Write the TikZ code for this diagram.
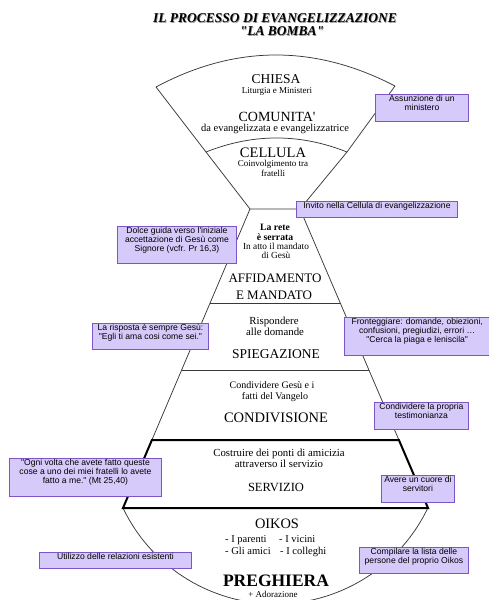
\documentclass[tikz,border=0pt]{standalone}
\usepackage{fontspec}
\setmainfont{Liberation Serif}[Ligatures=TeXOff]
\newfontfamily\notefont{Liberation Sans}[Ligatures=TeXOff]
\definecolor{notefill}{HTML}{D6CAFA}
\definecolor{notedraw}{HTML}{7C56C6}
\definecolor{ink}{HTML}{383838}
\definecolor{shadowgray}{HTML}{9A9A9A}
\newcommand\fs[1]{\fontsize{#1}{#1}\selectfont}
\newcommand\sq{\char39\relax}
\newcommand\dq{\char34\relax}
\newcommand\notebox[6]{%
  \pgfmathsetlengthmacro\nbw{(#4)-(#2)}%
  \pgfmathsetlengthmacro\nbh{(#5)-(#3)}%
  \node[note, minimum width=\nbw, minimum height=\nbh] (#1) at (#2,#3)
    {\parbox[t][\nbh][t]{\nbw}{\centering\vspace*{1.0pt}#6\par}};}
\begin{document}
\begin{tikzpicture}[x=1pt,y=-1pt,
  note/.style={draw=notedraw, fill=notefill, line width=0.9pt, inner sep=0pt,
    anchor=north west, font=\notefont\fontsize{8.6}{8.8}\selectfont},
  lbl/.style={anchor=base, inner sep=0pt},
  outline/.style={draw=ink, line width=0.75pt, line join=round},
  heavy/.style={draw=black, line width=2pt, line join=miter},
  titletext/.style={anchor=base, inner sep=0pt, font=\fs{13.5}\bfseries\itshape}
]
\useasboundingbox (0,0) rectangle (489,600);
\clip (0,0) rectangle (489,600);

% ---------- title ----------
\node[titletext, text=shadowgray] (title1s) at (275.8,23.3) {IL PROCESSO DI EVANGELIZZAZIONE};
\node[titletext] (title1) at (275,22.5) {IL PROCESSO DI EVANGELIZZAZIONE};
\node[titletext, text=shadowgray] (title2s) at (282.8,36.3) {\dq LA BOMBA\dq};
\node[titletext] (title2) at (282,35.5) {\dq LA BOMBA\dq};

% ---------- shapes ----------
% fan (Chiesa / Comunita')
\draw[outline] (156,87) .. controls (235,44.7) and (314.7,44.3) .. (395,86)
  -- (347,152) .. controls (300,133.3) and (253,133.3) .. (206,152) -- cycle;
% cellula
\draw[outline] (206,152) -- (250,209) -- (300,209) -- (347,152);
% body
\draw[outline] (250,209) -- (151.9,440);
\draw[outline] (300,209) -- (398.9,440);
\draw[outline] (210.1,303) -- (340.2,303);
\draw[outline] (181.6,370) -- (368.9,370);
% bottom (oikos)
\draw[outline] (123,508) arc[start angle=154.4, end angle=25.6, radius=169];
% servizio
\draw[heavy] (151.9,440) -- (398.9,440) -- (428,508) -- (123,508) -- cycle;

% ---------- texts in the bomb ----------
\node[lbl, font=\fs{13.5}] (chiesa) at (276,83.5) {CHIESA};
\node[lbl, font=\fs{9}] (liturgia) at (277,93.5) {Liturgia e Ministeri};
\node[lbl, font=\fs{14}] (comunita) at (277,121) {COMUNITA\sq};
\node[lbl, font=\fs{10.5}] (daevang) at (275,131.5) {da evangelizzata e evangelizzatrice};
\node[lbl, font=\fs{14.5}] (cellula) at (273,157) {CELLULA};
\node[lbl, font=\fs{9}] (coinv) at (273,166.5) {Coinvolgimento tra};
\node[lbl, font=\fs{9}] (fratelli) at (273,176) {fratelli};

\node[lbl, font=\fs{9.7}\bfseries] (larete) at (275,230) {La rete};
\node[lbl, font=\fs{9.7}\bfseries] (serrata) at (275,240) {è serrata};
\node[lbl, font=\fs{9.3}] (inatto) at (276,249.5) {In atto il mandato};
\node[lbl, font=\fs{9.3}] (digesu) at (276,258.5) {di Gesù};
\node[lbl, font=\fs{13}] (affid) at (275,282) {AFFIDAMENTO};
\node[lbl, font=\fs{13}] (emand) at (274,299) {E MANDATO};

\node[lbl, font=\fs{10.8}] (rispond) at (274,324.5) {Rispondere};
\node[lbl, font=\fs{10.8}] (alledom) at (275,335.5) {alle domande};
\node[lbl, font=\fs{13.5}] (spieg) at (276,358) {SPIEGAZIONE};

\node[lbl, font=\fs{10}] (condgesu) at (272,388.5) {Condividere Gesù e i};
\node[lbl, font=\fs{10}] (fatti) at (275,399.5) {fatti del Vangelo};
\node[lbl, font=\fs{14.5}] (condiv) at (276,422) {CONDIVISIONE};

\node[lbl, font=\fs{10.8}] (costruire) at (279,456.5) {Costruire dei ponti di amicizia};
\node[lbl, font=\fs{10.8}] (attraverso) at (279,467.5) {attraverso il servizio};
\node[lbl, font=\fs{12.5}] (servizio) at (276,491.5) {SERVIZIO};

\node[lbl, font=\fs{14.4}] (oikos) at (277,528) {OIKOS};
\node[lbl, anchor=base west, font=\fs{10.5}] (parenti) at (225,542.5) {- I parenti};
\node[lbl, anchor=base west, font=\fs{10.5}] (vicini) at (279,542.5) {- I vicini};
\node[lbl, anchor=base west, font=\fs{10.5}] (amici) at (225,554.5) {- Gli amici};
\node[lbl, anchor=base west, font=\fs{10.5}] (colleghi) at (280,554.5) {- I colleghi};
\node[lbl, font=\fs{17.5}\bfseries] (preghiera) at (276,586) {PREGHIERA};
\node[lbl, font=\fs{9}] (adoraz) at (273,597) {+ Adorazione};

% ---------- note boxes ----------
\notebox{nAssunzione}{375}{94}{468}{121}{Assunzione di un\\ministero}
\notebox{nInvito}{296}{201}{457}{217}{Invito nella Cellula di evangelizzazione}
\notebox{nDolce}{117}{226}{236}{263}{Dolce guida verso l\sq iniziale\\accettazione di Gesù come\\Signore (vcfr. Pr 16,3)}
\notebox{nRisposta}{92}{323}{208}{349}{La risposta è sempre Gesù:\\\dq Egli ti ama cosi come sei.\dq}
\notebox{nFront}{344}{317}{489.5}{355}{Fronteggiare: domande, obiezioni,\\confusioni, pregiudizi, errori …\\\dq Cerca la piaga e leniscila\dq}
\notebox{nTestim}{374}{402}{468}{429}{Condividere la propria\\testimonianza}
\notebox{nOgni}{9}{458}{161}{496}{\dq Ogni volta che avete fatto queste\\cose a uno dei miei fratelli lo avete\\fatto a me.\dq\ (Mt 25,40)}
\notebox{nCuore}{381}{475}{454}{502}{Avere un cuore di\\servitori}
\notebox{nUtilizzo}{39}{552}{191}{568}{Utilizzo delle relazioni esistenti}
\notebox{nLista}{359}{547}{468}{573}{Compilare la lista delle\\persone del proprio Oikos}
\end{tikzpicture}
\end{document}
